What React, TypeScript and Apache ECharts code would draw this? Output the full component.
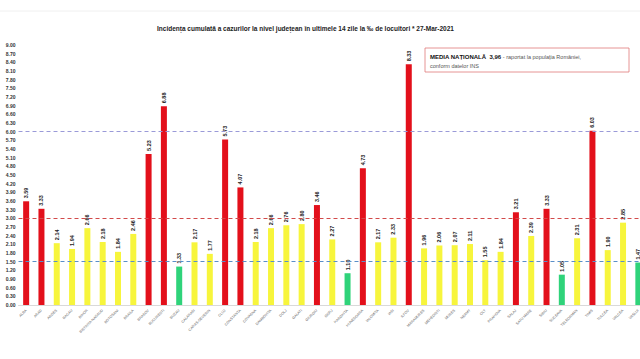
import React, { useEffect, useRef } from "react";
import * as echarts from "echarts";

const counties = [
  "ALBA", "ARAD", "ARGES", "BACAU", "BIHOR", "BISTRITA-NASAUD", "BOTOSANI", "BRAILA",
  "BRASOV", "BUCURESTI", "BUZAU", "CALARASI", "CARAS-SEVERIN", "CLUJ", "CONSTANTA",
  "COVASNA", "DAMBOVITA", "DOLJ", "GALATI", "GIURGIU", "GORJ", "HARGHITA", "HUNEDOARA",
  "IALOMITA", "IASI", "ILFOV", "MARAMURES", "MEHEDINTI", "MURES", "NEAMT", "OLT",
  "PRAHOVA", "SALAJ", "SATU MARE", "SIBIU", "SUCEAVA", "TELEORMAN", "TIMIS", "TULCEA",
  "VALCEA", "VASLUI",
];

const incidence = [
  3.59, 3.33, 2.14, 1.94, 2.66, 2.18, 1.84, 2.46, 5.23, 6.88, 1.33, 2.17, 1.77, 5.73, 4.07,
  2.18, 2.66, 2.76, 2.8, 3.46, 2.27, 1.1, 4.73, 2.17, 2.33, 8.33, 1.96, 2.06, 2.07, 2.11,
  1.55, 1.84, 3.21, 2.39, 3.33, 1.05, 2.31, 6.03, 1.9, 2.85, 1.47,
];

const thresholds = [6, 3, 1.5];
const nationalAverage = "3,96";

const RED = "#e3101b";
const YELLOW = "#f7f53c";
const GREEN = "#2fd37a";

function colorFor(v: number) {
  if (v > 3) return RED;
  if (v >= 1.5) return YELLOW;
  return GREEN;
}

export default function App() {
  const ref = useRef<HTMLDivElement>(null);
  useEffect(() => {
    if (!ref.current) return;
    const chart = echarts.init(ref.current, null, { renderer: "svg" });
    const font = "Liberation Sans";
    chart.setOption({
      animation: false,
      textStyle: { fontFamily: font },
      title: {
        text: "Incidența cumulată a cazurilor la nivel județean în ultimele 14 zile la ‰ de locuitori * 27-Mar-2021",
        left: 152,
        top: 20,
        textStyle: { fontSize: 6.5, fontWeight: "bold", color: "#222", fontFamily: font },
      },
      graphic: [
        { type: "line", shape: { x1: 0, y1: 11, x2: 660, y2: 11 }, style: { stroke: "#f0f0f0", lineWidth: 1 } },
        {
          type: "rect",
          shape: { x: 425, y: 48, width: 204, height: 24 },
          style: { fill: "#fff", stroke: "#e07a7a", lineWidth: 0.8 },
        },
        {
          type: "text",
          x: 430,
          y: 52,
          style: {
            text: "{b|MEDIA NAȚIONALĂ  " + nationalAverage + "}{n| - raportat la populația României,}\n{n|conform datelor INS}",
            rich: {
              b: { fontSize: 6, fontWeight: "bold", fill: "#111", fontFamily: font, lineHeight: 9 },
              n: { fontSize: 5.5, fill: "#555", fontFamily: font, lineHeight: 9 },
            },
          },
        },
      ],
      grid: { left: 18.5, right: 14, top: 45, bottom: 54 },
      xAxis: {
        type: "category",
        data: counties,
        axisTick: { show: false },
        axisLine: { lineStyle: { color: "#d9d9d9" } },
        axisLabel: {
          interval: 0,
          rotate: 45,
          fontSize: 3.6,
          color: "#666",
          margin: 5,
          fontFamily: font,
        },
      },
      yAxis: {
        type: "value",
        min: 0,
        max: 9,
        interval: 0.3,
        splitLine: { show: false },
        axisLine: { show: false },
        axisTick: { show: false },
        axisLabel: {
          fontSize: 5,
          color: "#333",
          fontWeight: "bold",
          margin: 3,
          formatter: (v: number) => v.toFixed(2),
          fontFamily: font,
        },
      },
      series: [
        {
          type: "bar",
          barWidth: 6,
          data: incidence.map((v) => ({ value: v, itemStyle: { color: colorFor(v) } })),
          label: {
            show: true,
            position: "top",
            rotate: 90,
            align: "left",
            verticalAlign: "middle",
            distance: 3,
            fontSize: 5.5,
            fontWeight: "bold",
            color: "#222",
            fontFamily: font,
            formatter: (p: any) => Number(p.value).toFixed(2),
          },
          markLine: {
            silent: true,
            symbol: "none",
            label: { show: false },
            data: [
              { yAxis: thresholds[0], lineStyle: { color: "#9a9ad8", type: [4, 3], width: 1 } },
              { yAxis: thresholds[1], lineStyle: { color: "#d24a4a", type: [4, 3], width: 1 } },
              { yAxis: thresholds[2], lineStyle: { color: "#5a8fc8", type: [4, 3], width: 1 } },
            ],
          },
        },
      ],
    });
    return () => chart.dispose();
  }, []);
  return (
    <div style={{ position: "fixed", left: 0, top: 0, width: 640, height: 359, overflow: "hidden", background: "#fff" }}>
      <div ref={ref} style={{ width: 660, height: 359 }} />
    </div>
  );
}
